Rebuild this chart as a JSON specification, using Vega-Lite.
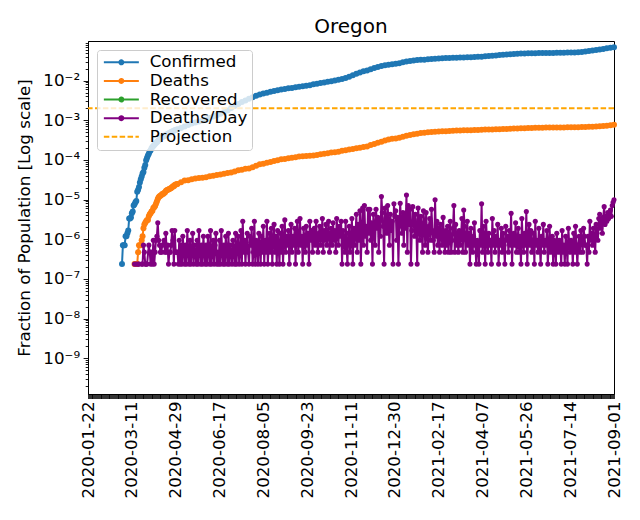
{
"$schema":"https://vega.github.io/schema/vega-lite/v6.json",
"width":526,"height":353,
"autosize":{"type":"none"},
"padding":{"left":88,"top":41,"right":26,"bottom":126},
"background":"white",
"config":{"font":"DejaVu Sans","view":{"stroke":"black","strokeWidth":1},
"axis":{"domainColor":"black","tickColor":"black","labelColor":"black","titleColor":"black","grid":false,"labelFont":"DejaVu Sans","titleFont":"DejaVu Sans","labelFontSize":16.7,"titleFontSize":16.7,"titleFontWeight":"normal","domainWidth":1}},
"title":{"text":"Oregon","fontSize":20,"fontWeight":"normal","font":"DejaVu Sans","color":"black","offset":-2},
"datasets":{
"cum":[
{"t":"2020-02-29","Confirmed":2.37e-7},{"t":"2020-03-01","Confirmed":7.11e-7},{"t":"2020-03-02","Confirmed":7.11e-7},{"t":"2020-03-03","Confirmed":7.11e-7},{"t":"2020-03-04","Confirmed":1.19e-6},{"t":"2020-03-05","Confirmed":1.19e-6},{"t":"2020-03-06","Confirmed":1.42e-6},{"t":"2020-03-07","Confirmed":1.66e-6},{"t":"2020-03-08","Confirmed":3.32e-6},{"t":"2020-03-09","Confirmed":3.32e-6},{"t":"2020-03-10","Confirmed":3.56e-6},{"t":"2020-03-11","Confirmed":4.51e-6},{"t":"2020-03-12","Confirmed":4.98e-6},{"t":"2020-03-13","Confirmed":7.11e-6},
{"t":"2020-03-14","Confirmed":7.59e-6,"Deaths":2.37e-7},{"t":"2020-03-15","Confirmed":8.54e-6,"Deaths":2.37e-7},{"t":"2020-03-16","Confirmed":9.25e-6,"Deaths":2.37e-7},{"t":"2020-03-17","Confirmed":1.57e-5,"Deaths":2.37e-7},{"t":"2020-03-18","Confirmed":1.78e-5,"Deaths":4.74e-7},{"t":"2020-03-19","Confirmed":2.09e-5,"Deaths":7.11e-7},{"t":"2020-03-20","Confirmed":2.7e-5,"Deaths":7.11e-7},{"t":"2020-03-21","Confirmed":3.25e-5,"Deaths":7.11e-7},{"t":"2020-03-22","Confirmed":3.82e-5,"Deaths":9.49e-7},{"t":"2020-03-23","Confirmed":4.53e-5,"Deaths":1.19e-6},{"t":"2020-03-24","Confirmed":4.96e-5,"Deaths":1.9e-6},{"t":"2020-03-25","Confirmed":6.31e-5,"Deaths":2.37e-6},{"t":"2020-03-26","Confirmed":7.49e-5,"Deaths":2.61e-6},{"t":"2020-03-27","Confirmed":9.82e-5,"Deaths":2.85e-6},{"t":"2020-03-28","Confirmed":1.14e-4,"Deaths":3.08e-6},{"t":"2020-03-29","Confirmed":1.3e-4,"Deaths":3.08e-6},{"t":"2020-03-30","Confirmed":1.44e-4,"Deaths":3.79e-6},{"t":"2020-03-31","Confirmed":1.64e-4,"Deaths":4.27e-6},
{"t":"2020-04-01","Confirmed":1.75e-4,"Deaths":4.51e-6},{"t":"2020-04-02","Confirmed":1.96e-4,"Deaths":4.98e-6},{"t":"2020-04-03","Confirmed":2.13e-4,"Deaths":5.22e-6},{"t":"2020-04-04","Confirmed":2.25e-4,"Deaths":6.17e-6},{"t":"2020-04-05","Confirmed":2.37e-4,"Deaths":6.4e-6},{"t":"2020-04-06","Confirmed":2.53e-4,"Deaths":6.88e-6},{"t":"2020-04-07","Confirmed":2.68e-4,"Deaths":7.83e-6},{"t":"2020-04-08","Confirmed":2.8e-4,"Deaths":9.01e-6},{"t":"2020-04-09","Confirmed":2.94e-4,"Deaths":1.04e-5},{"t":"2020-04-10","Confirmed":3.13e-4,"Deaths":1.14e-5},{"t":"2020-04-11","Confirmed":3.25e-4,"Deaths":1.21e-5},{"t":"2020-04-12","Confirmed":3.43e-4,"Deaths":1.26e-5},{"t":"2020-04-13","Confirmed":3.62e-4,"Deaths":1.3e-5},{"t":"2020-04-14","Confirmed":3.76e-4,"Deaths":1.38e-5},{"t":"2020-04-15","Confirmed":3.87e-4,"Deaths":1.38e-5},{"t":"2020-04-16","Confirmed":3.94e-4,"Deaths":1.47e-5},{"t":"2020-04-17","Confirmed":4.12e-4,"Deaths":1.52e-5},{"t":"2020-04-18","Confirmed":4.23e-4,"Deaths":1.66e-5},{"t":"2020-04-19","Confirmed":4.37e-4,"Deaths":1.71e-5},{"t":"2020-04-20","Confirmed":4.53e-4,"Deaths":1.78e-5},{"t":"2020-04-21","Confirmed":4.64e-4,"Deaths":1.8e-5},{"t":"2020-04-22","Confirmed":4.75e-4,"Deaths":1.85e-5},{"t":"2020-04-23","Confirmed":4.88e-4,"Deaths":1.9e-5},{"t":"2020-04-24","Confirmed":5.04e-4,"Deaths":1.97e-5},{"t":"2020-04-25","Confirmed":5.16e-4,"Deaths":2.06e-5},{"t":"2020-04-26","Confirmed":5.34e-4,"Deaths":2.16e-5},{"t":"2020-04-27","Confirmed":5.48e-4,"Deaths":2.18e-5},{"t":"2020-04-28","Confirmed":5.58e-4,"Deaths":2.35e-5},{"t":"2020-04-29","Confirmed":5.66e-4,"Deaths":2.4e-5},{"t":"2020-04-30","Confirmed":5.8e-4,"Deaths":2.44e-5},
{"t":"2020-05-01","Confirmed":5.95e-4,"Deaths":2.47e-5},{"t":"2020-05-05","Confirmed":6.36e-4,"Deaths":2.73e-5},{"t":"2020-05-09","Confirmed":6.92e-4,"Deaths":3.01e-5},{"t":"2020-05-13","Confirmed":7.65e-4,"Deaths":3.08e-5},{"t":"2020-05-17","Confirmed":8.25e-4,"Deaths":3.25e-5},{"t":"2020-05-21","Confirmed":8.84e-4,"Deaths":3.41e-5},{"t":"2020-05-25","Confirmed":9.31e-4,"Deaths":3.51e-5},{"t":"2020-05-29","Confirmed":9.8e-4,"Deaths":3.58e-5},
{"t":"2020-06-02","Confirmed":1.04e-3,"Deaths":3.65e-5},{"t":"2020-06-06","Confirmed":1.14e-3,"Deaths":3.89e-5},{"t":"2020-06-10","Confirmed":1.24e-3,"Deaths":4.01e-5},{"t":"2020-06-14","Confirmed":1.34e-3,"Deaths":4.17e-5},{"t":"2020-06-18","Confirmed":1.45e-3,"Deaths":4.29e-5},{"t":"2020-06-22","Confirmed":1.6e-3,"Deaths":4.48e-5},{"t":"2020-06-26","Confirmed":1.77e-3,"Deaths":4.67e-5},{"t":"2020-06-30","Confirmed":2.05e-3,"Deaths":4.79e-5},
{"t":"2020-07-04","Confirmed":2.29e-3,"Deaths":5.1e-5},{"t":"2020-07-08","Confirmed":2.57e-3,"Deaths":5.5e-5},{"t":"2020-07-12","Confirmed":2.89e-3,"Deaths":5.64e-5},{"t":"2020-07-16","Confirmed":3.16e-3,"Deaths":6.02e-5},{"t":"2020-07-20","Confirmed":3.46e-3,"Deaths":6.12e-5},{"t":"2020-07-24","Confirmed":3.82e-3,"Deaths":6.55e-5},{"t":"2020-07-28","Confirmed":4.13e-3,"Deaths":7.14e-5},
{"t":"2020-08-01","Confirmed":4.46e-3,"Deaths":7.73e-5},{"t":"2020-08-05","Confirmed":4.74e-3,"Deaths":8.02e-5},{"t":"2020-08-09","Confirmed":4.97e-3,"Deaths":8.44e-5},{"t":"2020-08-13","Confirmed":5.22e-3,"Deaths":8.89e-5},{"t":"2020-08-17","Confirmed":5.47e-3,"Deaths":9.46e-5},{"t":"2020-08-21","Confirmed":5.73e-3,"Deaths":9.89e-5},{"t":"2020-08-25","Confirmed":5.97e-3,"Deaths":1.036e-4},{"t":"2020-08-29","Confirmed":6.17e-3,"Deaths":1.058e-4},
{"t":"2020-09-02","Confirmed":6.38e-3,"Deaths":1.1e-4},{"t":"2020-09-06","Confirmed":6.55e-3,"Deaths":1.143e-4},{"t":"2020-09-10","Confirmed":6.77e-3,"Deaths":1.176e-4},{"t":"2020-09-14","Confirmed":6.95e-3,"Deaths":1.217e-4},{"t":"2020-09-18","Confirmed":7.2e-3,"Deaths":1.236e-4},{"t":"2020-09-22","Confirmed":7.4e-3,"Deaths":1.252e-4},{"t":"2020-09-26","Confirmed":7.66e-3,"Deaths":1.278e-4},{"t":"2020-09-30","Confirmed":8.03e-3,"Deaths":1.3e-4},
{"t":"2020-10-04","Confirmed":8.29e-3,"Deaths":1.34e-4},{"t":"2020-10-08","Confirmed":8.66e-3,"Deaths":1.392e-4},{"t":"2020-10-12","Confirmed":8.97e-3,"Deaths":1.432e-4},{"t":"2020-10-16","Confirmed":9.35e-3,"Deaths":1.477e-4},{"t":"2020-10-20","Confirmed":9.69e-3,"Deaths":1.53e-4},{"t":"2020-10-24","Confirmed":1.01e-2,"Deaths":1.565e-4},{"t":"2020-10-28","Confirmed":1.05e-2,"Deaths":1.615e-4},
{"t":"2020-11-01","Confirmed":1.1e-2,"Deaths":1.698e-4},{"t":"2020-11-05","Confirmed":1.16e-2,"Deaths":1.762e-4},{"t":"2020-11-09","Confirmed":1.25e-2,"Deaths":1.831e-4},{"t":"2020-11-13","Confirmed":1.36e-2,"Deaths":1.897e-4},{"t":"2020-11-17","Confirmed":1.49e-2,"Deaths":1.966e-4},{"t":"2020-11-21","Confirmed":1.61e-2,"Deaths":2.032e-4},{"t":"2020-11-25","Confirmed":1.72e-2,"Deaths":2.106e-4},{"t":"2020-11-29","Confirmed":1.8e-2,"Deaths":2.177e-4},
{"t":"2020-12-03","Confirmed":1.92e-2,"Deaths":2.379e-4},{"t":"2020-12-07","Confirmed":2.07e-2,"Deaths":2.528e-4},{"t":"2020-12-11","Confirmed":2.21e-2,"Deaths":2.727e-4},{"t":"2020-12-15","Confirmed":2.33e-2,"Deaths":2.893e-4},{"t":"2020-12-19","Confirmed":2.43e-2,"Deaths":3.083e-4},{"t":"2020-12-23","Confirmed":2.52e-2,"Deaths":3.294e-4},{"t":"2020-12-27","Confirmed":2.57e-2,"Deaths":3.408e-4},{"t":"2020-12-31","Confirmed":2.64e-2,"Deaths":3.481e-4},
{"t":"2021-01-04","Confirmed":2.75e-2,"Deaths":3.647e-4},{"t":"2021-01-08","Confirmed":2.89e-2,"Deaths":3.863e-4},{"t":"2021-01-12","Confirmed":3.01e-2,"Deaths":4.093e-4},{"t":"2021-01-16","Confirmed":3.12e-2,"Deaths":4.254e-4},{"t":"2021-01-20","Confirmed":3.2e-2,"Deaths":4.454e-4},{"t":"2021-01-24","Confirmed":3.28e-2,"Deaths":4.577e-4},{"t":"2021-01-28","Confirmed":3.33e-2,"Deaths":4.743e-4},
{"t":"2021-02-01","Confirmed":3.37e-2,"Deaths":4.876e-4},{"t":"2021-02-05","Confirmed":3.45e-2,"Deaths":4.975e-4},{"t":"2021-02-09","Confirmed":3.51e-2,"Deaths":5.077e-4},{"t":"2021-02-13","Confirmed":3.56e-2,"Deaths":5.155e-4},{"t":"2021-02-17","Confirmed":3.61e-2,"Deaths":5.224e-4},{"t":"2021-02-21","Confirmed":3.64e-2,"Deaths":5.286e-4},{"t":"2021-02-25","Confirmed":3.69e-2,"Deaths":5.321e-4},
{"t":"2021-03-01","Confirmed":3.72e-2,"Deaths":5.364e-4},{"t":"2021-03-05","Confirmed":3.74e-2,"Deaths":5.428e-4},{"t":"2021-03-09","Confirmed":3.77e-2,"Deaths":5.494e-4},{"t":"2021-03-13","Confirmed":3.8e-2,"Deaths":5.547e-4},{"t":"2021-03-17","Confirmed":3.83e-2,"Deaths":5.592e-4},{"t":"2021-03-21","Confirmed":3.85e-2,"Deaths":5.618e-4},{"t":"2021-03-25","Confirmed":3.88e-2,"Deaths":5.639e-4},{"t":"2021-03-29","Confirmed":3.92e-2,"Deaths":5.656e-4},
{"t":"2021-04-02","Confirmed":3.96e-2,"Deaths":5.71e-4},{"t":"2021-04-06","Confirmed":4.01e-2,"Deaths":5.774e-4},{"t":"2021-04-10","Confirmed":4.08e-2,"Deaths":5.819e-4},{"t":"2021-04-14","Confirmed":4.15e-2,"Deaths":5.848e-4},{"t":"2021-04-18","Confirmed":4.23e-2,"Deaths":5.862e-4},{"t":"2021-04-22","Confirmed":4.32e-2,"Deaths":5.905e-4},{"t":"2021-04-26","Confirmed":4.41e-2,"Deaths":5.957e-4},{"t":"2021-04-30","Confirmed":4.49e-2,"Deaths":5.988e-4},
{"t":"2021-05-04","Confirmed":4.56e-2,"Deaths":6.047e-4},{"t":"2021-05-08","Confirmed":4.63e-2,"Deaths":6.118e-4},{"t":"2021-05-12","Confirmed":4.69e-2,"Deaths":6.178e-4},{"t":"2021-05-16","Confirmed":4.74e-2,"Deaths":6.237e-4},{"t":"2021-05-20","Confirmed":4.79e-2,"Deaths":6.298e-4},{"t":"2021-05-24","Confirmed":4.82e-2,"Deaths":6.332e-4},{"t":"2021-05-28","Confirmed":4.86e-2,"Deaths":6.362e-4},
{"t":"2021-06-01","Confirmed":4.88e-2,"Deaths":6.389e-4},{"t":"2021-06-05","Confirmed":4.91e-2,"Deaths":6.434e-4},{"t":"2021-06-09","Confirmed":4.93e-2,"Deaths":6.469e-4},{"t":"2021-06-13","Confirmed":4.94e-2,"Deaths":6.498e-4},{"t":"2021-06-17","Confirmed":4.96e-2,"Deaths":6.524e-4},{"t":"2021-06-21","Confirmed":4.97e-2,"Deaths":6.54e-4},{"t":"2021-06-25","Confirmed":4.99e-2,"Deaths":6.559e-4},{"t":"2021-06-29","Confirmed":5.01e-2,"Deaths":6.571e-4},
{"t":"2021-07-03","Confirmed":5.03e-2,"Deaths":6.588e-4},{"t":"2021-07-07","Confirmed":5.04e-2,"Deaths":6.602e-4},{"t":"2021-07-11","Confirmed":5.07e-2,"Deaths":6.621e-4},{"t":"2021-07-15","Confirmed":5.09e-2,"Deaths":6.64e-4},{"t":"2021-07-19","Confirmed":5.13e-2,"Deaths":6.671e-4},{"t":"2021-07-23","Confirmed":5.2e-2,"Deaths":6.702e-4},{"t":"2021-07-27","Confirmed":5.29e-2,"Deaths":6.74e-4},{"t":"2021-07-31","Confirmed":5.4e-2,"Deaths":6.792e-4},
{"t":"2021-08-04","Confirmed":5.54e-2,"Deaths":6.834e-4},{"t":"2021-08-08","Confirmed":5.72e-2,"Deaths":6.906e-4},{"t":"2021-08-12","Confirmed":5.91e-2,"Deaths":6.979e-4},{"t":"2021-08-16","Confirmed":6.07e-2,"Deaths":7.086e-4},{"t":"2021-08-20","Confirmed":6.28e-2,"Deaths":7.185e-4},{"t":"2021-08-24","Confirmed":6.5e-2,"Deaths":7.313e-4},{"t":"2021-08-28","Confirmed":6.71e-2,"Deaths":7.47e-4},{"t":"2021-09-01","Confirmed":6.88e-2,"Deaths":7.66e-4}
],
"dpd":[
{"t":"2020-03-14","v":2.37e-7},{"t":"2020-03-16","v":2.37e-7},{"t":"2020-03-18","v":2.37e-7},{"t":"2020-03-19","v":2.37e-7},{"t":"2020-03-22","v":2.37e-7},{"t":"2020-03-23","v":2.37e-7},{"t":"2020-03-24","v":7.11e-7},{"t":"2020-03-25","v":4.74e-7},{"t":"2020-03-26","v":2.37e-7},{"t":"2020-03-27","v":2.37e-7},{"t":"2020-03-28","v":2.37e-7},{"t":"2020-03-30","v":7.11e-7},{"t":"2020-03-31","v":4.74e-7},
{"t":"2020-04-01","v":2.37e-7},{"t":"2020-04-02","v":4.74e-7},{"t":"2020-04-03","v":2.37e-7},{"t":"2020-04-04","v":9.49e-7},{"t":"2020-04-05","v":2.37e-7},{"t":"2020-04-06","v":4.74e-7},{"t":"2020-04-07","v":9.49e-7},{"t":"2020-04-08","v":1.19e-6},{"t":"2020-04-09","v":2.61e-6},{"t":"2020-04-10","v":9.49e-7},{"t":"2020-04-11","v":7.11e-7},{"t":"2020-04-12","v":4.74e-7},{"t":"2020-04-13","v":4.74e-7},{"t":"2020-04-14","v":7.11e-7},{"t":"2020-04-16","v":9.49e-7},{"t":"2020-04-17","v":4.74e-7},{"t":"2020-04-18","v":1.42e-6},{"t":"2020-04-19","v":4.74e-7},{"t":"2020-04-20","v":7.11e-7},{"t":"2020-04-21","v":2.37e-7},{"t":"2020-04-22","v":4.74e-7},{"t":"2020-04-23","v":4.74e-7},{"t":"2020-04-24","v":7.11e-7},{"t":"2020-04-25","v":1.66e-6},{"t":"2020-04-26","v":9.49e-7},{"t":"2020-04-27","v":2.37e-7},{"t":"2020-04-28","v":1.66e-6},{"t":"2020-04-29","v":4.74e-7},{"t":"2020-04-30","v":4.74e-7},
{"t":"2020-05-01","v":4.74e-7},{"t":"2020-05-02","v":2.37e-7},{"t":"2020-05-03","v":9.49e-7},{"t":"2020-05-04","v":2.37e-7},{"t":"2020-05-05","v":7.11e-7},{"t":"2020-05-06","v":2.37e-7},{"t":"2020-05-07","v":1.19e-6},{"t":"2020-05-08","v":4.74e-7},{"t":"2020-05-09","v":2.37e-7},{"t":"2020-05-10","v":7.11e-7},{"t":"2020-05-11","v":2.37e-7},{"t":"2020-05-12","v":1.66e-6},{"t":"2020-05-13","v":4.74e-7},{"t":"2020-05-14","v":2.37e-7},{"t":"2020-05-15","v":9.49e-7},{"t":"2020-05-16","v":2.37e-7},{"t":"2020-05-17","v":4.74e-7},{"t":"2020-05-18","v":1.42e-6},{"t":"2020-05-19","v":2.37e-7},{"t":"2020-05-20","v":7.11e-7},{"t":"2020-05-21","v":4.74e-7},{"t":"2020-05-22","v":2.37e-7},{"t":"2020-05-23","v":9.49e-7},{"t":"2020-05-24","v":2.37e-7},{"t":"2020-05-25","v":1.66e-6},{"t":"2020-05-26","v":4.74e-7},{"t":"2020-05-27","v":2.37e-7},{"t":"2020-05-28","v":7.11e-7},{"t":"2020-05-29","v":2.37e-7},{"t":"2020-05-30","v":1.19e-6},{"t":"2020-05-31","v":4.74e-7},
{"t":"2020-06-01","v":2.37e-7},{"t":"2020-06-02","v":7.11e-7},{"t":"2020-06-03","v":2.37e-7},{"t":"2020-06-04","v":1.19e-6},{"t":"2020-06-05","v":4.74e-7},{"t":"2020-06-06","v":2.37e-7},{"t":"2020-06-07","v":1.66e-6},{"t":"2020-06-08","v":2.37e-7},{"t":"2020-06-09","v":4.74e-7},{"t":"2020-06-10","v":9.49e-7},{"t":"2020-06-11","v":2.37e-7},{"t":"2020-06-12","v":7.11e-7},{"t":"2020-06-13","v":1.42e-6},{"t":"2020-06-14","v":2.37e-7},{"t":"2020-06-15","v":4.74e-7},{"t":"2020-06-16","v":2.37e-7},{"t":"2020-06-17","v":9.49e-7},{"t":"2020-06-18","v":2.37e-7},{"t":"2020-06-19","v":1.66e-6},{"t":"2020-06-20","v":4.74e-7},{"t":"2020-06-21","v":2.37e-7},{"t":"2020-06-22","v":7.11e-7},{"t":"2020-06-23","v":2.37e-7},{"t":"2020-06-24","v":1.19e-6},{"t":"2020-06-25","v":4.74e-7},{"t":"2020-06-26","v":2.37e-7},{"t":"2020-06-27","v":1.42e-6},{"t":"2020-06-28","v":2.37e-7},{"t":"2020-06-29","v":7.11e-7},{"t":"2020-06-30","v":4.74e-7},
{"t":"2020-07-01","v":2.37e-7},{"t":"2020-07-02","v":9.49e-7},{"t":"2020-07-03","v":4.74e-7},{"t":"2020-07-04","v":2.37e-7},{"t":"2020-07-05","v":1.42e-6},{"t":"2020-07-06","v":2.37e-7},{"t":"2020-07-07","v":7.11e-7},{"t":"2020-07-08","v":1.19e-6},{"t":"2020-07-09","v":2.37e-7},{"t":"2020-07-10","v":4.74e-7},{"t":"2020-07-11","v":1.66e-6},{"t":"2020-07-12","v":2.37e-7},{"t":"2020-07-13","v":2.85e-6},{"t":"2020-07-14","v":4.74e-7},{"t":"2020-07-15","v":9.49e-7},{"t":"2020-07-16","v":2.37e-7},{"t":"2020-07-17","v":7.11e-7},{"t":"2020-07-18","v":1.42e-6},{"t":"2020-07-19","v":4.74e-7},{"t":"2020-07-20","v":2.37e-7},{"t":"2020-07-21","v":1.19e-6},{"t":"2020-07-22","v":7.11e-7},{"t":"2020-07-23","v":1.9e-6},{"t":"2020-07-24","v":2.37e-7},{"t":"2020-07-25","v":4.74e-7},{"t":"2020-07-26","v":2.85e-6},{"t":"2020-07-27","v":2.37e-7},{"t":"2020-07-28","v":9.49e-7},{"t":"2020-07-29","v":7.11e-7},{"t":"2020-07-30","v":2.37e-7},{"t":"2020-07-31","v":1.42e-6},
{"t":"2020-08-01","v":7.11e-7},{"t":"2020-08-02","v":2.37e-7},{"t":"2020-08-03","v":1.19e-6},{"t":"2020-08-04","v":4.74e-7},{"t":"2020-08-05","v":2.13e-6},{"t":"2020-08-06","v":2.37e-7},{"t":"2020-08-07","v":9.49e-7},{"t":"2020-08-08","v":4.74e-7},{"t":"2020-08-09","v":2.85e-6},{"t":"2020-08-10","v":2.37e-7},{"t":"2020-08-11","v":7.11e-7},{"t":"2020-08-12","v":1.42e-6},{"t":"2020-08-13","v":4.74e-7},{"t":"2020-08-14","v":1.9e-6},{"t":"2020-08-15","v":2.37e-7},{"t":"2020-08-16","v":9.49e-7},{"t":"2020-08-17","v":2.37e-6},{"t":"2020-08-18","v":4.74e-7},{"t":"2020-08-19","v":1.19e-6},{"t":"2020-08-20","v":2.37e-7},{"t":"2020-08-21","v":1.66e-6},{"t":"2020-08-22","v":7.11e-7},{"t":"2020-08-23","v":2.37e-7},{"t":"2020-08-24","v":1.42e-6},{"t":"2020-08-25","v":4.74e-7},{"t":"2020-08-26","v":2.13e-6},{"t":"2020-08-27","v":2.37e-7},{"t":"2020-08-28","v":9.49e-7},{"t":"2020-08-29","v":3.08e-6},{"t":"2020-08-30","v":4.74e-7},{"t":"2020-08-31","v":1.19e-6},
{"t":"2020-09-01","v":7.11e-7},{"t":"2020-09-02","v":1.66e-6},{"t":"2020-09-03","v":2.37e-7},{"t":"2020-09-04","v":9.49e-7},{"t":"2020-09-05","v":2.37e-6},{"t":"2020-09-06","v":4.74e-7},{"t":"2020-09-07","v":1.19e-6},{"t":"2020-09-08","v":7.11e-7},{"t":"2020-09-09","v":1.9e-6},{"t":"2020-09-10","v":2.37e-7},{"t":"2020-09-11","v":1.42e-6},{"t":"2020-09-12","v":2.85e-6},{"t":"2020-09-13","v":4.74e-7},{"t":"2020-09-14","v":9.49e-7},{"t":"2020-09-15","v":3.32e-6},{"t":"2020-09-16","v":7.11e-7},{"t":"2020-09-17","v":1.19e-6},{"t":"2020-09-18","v":2.37e-7},{"t":"2020-09-19","v":1.9e-6},{"t":"2020-09-20","v":9.49e-7},{"t":"2020-09-21","v":4.74e-7},{"t":"2020-09-22","v":2.13e-6},{"t":"2020-09-23","v":7.11e-7},{"t":"2020-09-24","v":1.42e-6},{"t":"2020-09-25","v":2.37e-7},{"t":"2020-09-26","v":2.85e-6},{"t":"2020-09-27","v":9.49e-7},{"t":"2020-09-28","v":1.66e-6},{"t":"2020-09-29","v":4.74e-7},{"t":"2020-09-30","v":1.19e-6},
{"t":"2020-10-01","v":1.9e-6},{"t":"2020-10-02","v":7.11e-7},{"t":"2020-10-03","v":2.85e-6},{"t":"2020-10-04","v":9.49e-7},{"t":"2020-10-05","v":4.74e-7},{"t":"2020-10-06","v":1.42e-6},{"t":"2020-10-07","v":2.13e-6},{"t":"2020-10-08","v":7.11e-7},{"t":"2020-10-09","v":1.19e-6},{"t":"2020-10-10","v":3.32e-6},{"t":"2020-10-11","v":4.74e-7},{"t":"2020-10-12","v":1.66e-6},{"t":"2020-10-13","v":9.49e-7},{"t":"2020-10-14","v":2.37e-6},{"t":"2020-10-15","v":7.11e-7},{"t":"2020-10-16","v":1.42e-6},{"t":"2020-10-17","v":2.85e-6},{"t":"2020-10-18","v":4.74e-7},{"t":"2020-10-19","v":1.19e-6},{"t":"2020-10-20","v":1.9e-6},{"t":"2020-10-21","v":7.11e-7},{"t":"2020-10-22","v":2.61e-6},{"t":"2020-10-23","v":9.49e-7},{"t":"2020-10-24","v":1.66e-6},{"t":"2020-10-25","v":4.74e-7},{"t":"2020-10-26","v":3.32e-6},{"t":"2020-10-27","v":1.42e-6},{"t":"2020-10-28","v":7.11e-7},{"t":"2020-10-29","v":2.13e-6},{"t":"2020-10-30","v":1.19e-6},{"t":"2020-10-31","v":2.85e-6},
{"t":"2020-11-01","v":2.37e-7},{"t":"2020-11-02","v":1.66e-6},{"t":"2020-11-03","v":9.49e-7},{"t":"2020-11-04","v":4.74e-7},{"t":"2020-11-05","v":2.85e-6},{"t":"2020-11-06","v":7.11e-7},{"t":"2020-11-07","v":2.37e-7},{"t":"2020-11-08","v":1.42e-6},{"t":"2020-11-09","v":2.13e-6},{"t":"2020-11-10","v":4.74e-7},{"t":"2020-11-11","v":9.49e-7},{"t":"2020-11-12","v":3.32e-6},{"t":"2020-11-13","v":2.37e-7},{"t":"2020-11-14","v":1.9e-6},{"t":"2020-11-15","v":7.11e-7},{"t":"2020-11-16","v":1.19e-6},{"t":"2020-11-17","v":4.27e-6},{"t":"2020-11-18","v":4.74e-7},{"t":"2020-11-19","v":2.37e-6},{"t":"2020-11-20","v":9.49e-7},{"t":"2020-11-21","v":5.22e-6},{"t":"2020-11-22","v":2.37e-7},{"t":"2020-11-23","v":1.66e-6},{"t":"2020-11-24","v":6.17e-6},{"t":"2020-11-25","v":7.11e-7},{"t":"2020-11-26","v":7.11e-6},{"t":"2020-11-27","v":1.19e-6},{"t":"2020-11-28","v":2.13e-6},{"t":"2020-11-29","v":4.74e-7},{"t":"2020-11-30","v":5.69e-6},
{"t":"2020-12-01","v":1.42e-6},{"t":"2020-12-02","v":5.69e-6},{"t":"2020-12-03","v":9.49e-7},{"t":"2020-12-04","v":2.61e-6},{"t":"2020-12-05","v":2.37e-7},{"t":"2020-12-06","v":4.27e-6},{"t":"2020-12-07","v":2.13e-6},{"t":"2020-12-08","v":7.11e-7},{"t":"2020-12-09","v":5.69e-6},{"t":"2020-12-10","v":1.9e-6},{"t":"2020-12-11","v":3.56e-6},{"t":"2020-12-12","v":4.74e-7},{"t":"2020-12-13","v":2.85e-6},{"t":"2020-12-14","v":1.19e-6},{"t":"2020-12-15","v":1.19e-5},{"t":"2020-12-16","v":4.74e-6},{"t":"2020-12-17","v":2.13e-6},{"t":"2020-12-18","v":2.37e-7},{"t":"2020-12-19","v":6.17e-6},{"t":"2020-12-20","v":3.32e-6},{"t":"2020-12-21","v":1.42e-6},{"t":"2020-12-22","v":7.11e-6},{"t":"2020-12-23","v":2.37e-6},{"t":"2020-12-24","v":7.11e-7},{"t":"2020-12-25","v":4.27e-6},{"t":"2020-12-26","v":1.66e-6},{"t":"2020-12-27","v":2.85e-6},{"t":"2020-12-28","v":2.37e-7},{"t":"2020-12-29","v":7.83e-6},{"t":"2020-12-30","v":3.79e-6},{"t":"2020-12-31","v":5.22e-6},
{"t":"2021-01-01","v":9.49e-7},{"t":"2021-01-02","v":3.56e-6},{"t":"2021-01-03","v":2.37e-7},{"t":"2021-01-04","v":2.13e-6},{"t":"2021-01-05","v":8.06e-6},{"t":"2021-01-06","v":2.61e-6},{"t":"2021-01-07","v":1.42e-6},{"t":"2021-01-08","v":4.74e-6},{"t":"2021-01-09","v":7.11e-7},{"t":"2021-01-10","v":4.51e-6},{"t":"2021-01-11","v":1.9e-6},{"t":"2021-01-12","v":1.3e-5},{"t":"2021-01-13","v":4.74e-7},{"t":"2021-01-14","v":7.11e-6},{"t":"2021-01-15","v":2.37e-6},{"t":"2021-01-16","v":5.69e-6},{"t":"2021-01-17","v":2.37e-7},{"t":"2021-01-18","v":1.66e-6},{"t":"2021-01-19","v":6.64e-6},{"t":"2021-01-20","v":2.85e-6},{"t":"2021-01-21","v":1.19e-6},{"t":"2021-01-22","v":4.27e-6},{"t":"2021-01-23","v":2.13e-6},{"t":"2021-01-24","v":2.37e-7},{"t":"2021-01-25","v":6.17e-6},{"t":"2021-01-26","v":3.08e-6},{"t":"2021-01-27","v":9.49e-7},{"t":"2021-01-28","v":3.79e-6},{"t":"2021-01-29","v":1.9e-6},{"t":"2021-01-30","v":4.74e-7},{"t":"2021-01-31","v":5.22e-6},
{"t":"2021-02-01","v":2.61e-6},{"t":"2021-02-02","v":7.11e-7},{"t":"2021-02-03","v":4.74e-6},{"t":"2021-02-04","v":1.42e-6},{"t":"2021-02-05","v":4.74e-7},{"t":"2021-02-06","v":2.13e-6},{"t":"2021-02-07","v":3.32e-6},{"t":"2021-02-08","v":9.49e-7},{"t":"2021-02-09","v":5.69e-6},{"t":"2021-02-10","v":1.66e-6},{"t":"2021-02-11","v":9.49e-7},{"t":"2021-02-12","v":4.74e-7},{"t":"2021-02-13","v":9.96e-6},{"t":"2021-02-14","v":1.19e-6},{"t":"2021-02-15","v":2.85e-6},{"t":"2021-02-16","v":7.11e-7},{"t":"2021-02-17","v":1.9e-6},{"t":"2021-02-18","v":4.74e-7},{"t":"2021-02-19","v":2.37e-6},{"t":"2021-02-20","v":1.42e-6},{"t":"2021-02-21","v":7.11e-7},{"t":"2021-02-22","v":3.56e-6},{"t":"2021-02-23","v":9.49e-7},{"t":"2021-02-24","v":4.74e-7},{"t":"2021-02-25","v":1.66e-6},{"t":"2021-02-26","v":7.11e-7},{"t":"2021-02-27","v":2.13e-6},{"t":"2021-02-28","v":4.74e-7},
{"t":"2021-03-01","v":1.19e-6},{"t":"2021-03-02","v":2.85e-6},{"t":"2021-03-03","v":4.74e-7},{"t":"2021-03-04","v":9.49e-7},{"t":"2021-03-05","v":1.9e-6},{"t":"2021-03-06","v":7.11e-6},{"t":"2021-03-07","v":4.74e-7},{"t":"2021-03-08","v":2.37e-6},{"t":"2021-03-09","v":7.11e-7},{"t":"2021-03-10","v":1.42e-6},{"t":"2021-03-11","v":4.74e-7},{"t":"2021-03-12","v":1.66e-6},{"t":"2021-03-13","v":7.11e-7},{"t":"2021-03-14","v":1.19e-6},{"t":"2021-03-15","v":3.32e-6},{"t":"2021-03-16","v":4.74e-7},{"t":"2021-03-17","v":5.45e-6},{"t":"2021-03-18","v":2.13e-6},{"t":"2021-03-19","v":4.74e-7},{"t":"2021-03-20","v":9.49e-7},{"t":"2021-03-21","v":2.85e-6},{"t":"2021-03-22","v":7.11e-7},{"t":"2021-03-23","v":1.42e-6},{"t":"2021-03-24","v":2.37e-7},{"t":"2021-03-25","v":1.9e-6},{"t":"2021-03-26","v":7.11e-7},{"t":"2021-03-27","v":4.74e-7},{"t":"2021-03-28","v":1.19e-6},{"t":"2021-03-29","v":2.61e-6},{"t":"2021-03-30","v":7.11e-7},{"t":"2021-03-31","v":2.37e-7},
{"t":"2021-04-01","v":9.49e-7},{"t":"2021-04-02","v":7.11e-7},{"t":"2021-04-03","v":2.37e-7},{"t":"2021-04-04","v":1.66e-6},{"t":"2021-04-05","v":7.11e-7},{"t":"2021-04-06","v":7.83e-6},{"t":"2021-04-07","v":4.74e-7},{"t":"2021-04-08","v":2.13e-6},{"t":"2021-04-09","v":1.19e-6},{"t":"2021-04-10","v":2.37e-7},{"t":"2021-04-11","v":2.85e-6},{"t":"2021-04-12","v":9.49e-7},{"t":"2021-04-13","v":4.74e-7},{"t":"2021-04-14","v":1.42e-6},{"t":"2021-04-15","v":7.11e-7},{"t":"2021-04-16","v":9.49e-7},{"t":"2021-04-17","v":2.37e-7},{"t":"2021-04-18","v":3.32e-6},{"t":"2021-04-19","v":7.11e-7},{"t":"2021-04-20","v":1.66e-6},{"t":"2021-04-21","v":4.74e-7},{"t":"2021-04-22","v":1.19e-6},{"t":"2021-04-23","v":7.11e-7},{"t":"2021-04-24","v":2.37e-6},{"t":"2021-04-25","v":2.37e-7},{"t":"2021-04-26","v":9.49e-7},{"t":"2021-04-27","v":7.11e-7},{"t":"2021-04-28","v":1.9e-6},{"t":"2021-04-29","v":4.74e-7},{"t":"2021-04-30","v":1.42e-6},
{"t":"2021-05-01","v":7.11e-7},{"t":"2021-05-02","v":2.37e-7},{"t":"2021-05-03","v":2.13e-6},{"t":"2021-05-04","v":9.49e-7},{"t":"2021-05-05","v":1.19e-6},{"t":"2021-05-06","v":4.74e-7},{"t":"2021-05-07","v":1.66e-6},{"t":"2021-05-08","v":7.11e-7},{"t":"2021-05-09","v":4.51e-6},{"t":"2021-05-10","v":2.37e-7},{"t":"2021-05-11","v":9.49e-7},{"t":"2021-05-12","v":1.42e-6},{"t":"2021-05-13","v":7.11e-7},{"t":"2021-05-14","v":2.61e-6},{"t":"2021-05-15","v":4.74e-7},{"t":"2021-05-16","v":7.11e-7},{"t":"2021-05-17","v":1.9e-6},{"t":"2021-05-18","v":4.74e-7},{"t":"2021-05-19","v":1.19e-6},{"t":"2021-05-20","v":2.37e-7},{"t":"2021-05-21","v":3.32e-6},{"t":"2021-05-22","v":9.49e-7},{"t":"2021-05-23","v":4.74e-7},{"t":"2021-05-24","v":1.42e-6},{"t":"2021-05-25","v":7.11e-7},{"t":"2021-05-26","v":4.98e-6},{"t":"2021-05-27","v":2.37e-7},{"t":"2021-05-28","v":9.49e-7},{"t":"2021-05-29","v":2.37e-6},{"t":"2021-05-30","v":7.11e-7},{"t":"2021-05-31","v":1.66e-6},
{"t":"2021-06-01","v":4.74e-7},{"t":"2021-06-02","v":7.11e-7},{"t":"2021-06-03","v":1.42e-6},{"t":"2021-06-04","v":2.37e-7},{"t":"2021-06-05","v":2.85e-6},{"t":"2021-06-06","v":7.11e-7},{"t":"2021-06-07","v":9.49e-7},{"t":"2021-06-08","v":4.74e-7},{"t":"2021-06-09","v":1.9e-6},{"t":"2021-06-10","v":7.11e-7},{"t":"2021-06-11","v":2.37e-7},{"t":"2021-06-12","v":1.19e-6},{"t":"2021-06-13","v":7.11e-7},{"t":"2021-06-14","v":2.37e-6},{"t":"2021-06-15","v":4.74e-7},{"t":"2021-06-16","v":9.49e-7},{"t":"2021-06-17","v":7.11e-7},{"t":"2021-06-18","v":1.66e-6},{"t":"2021-06-19","v":2.37e-7},{"t":"2021-06-20","v":7.11e-7},{"t":"2021-06-21","v":2.13e-6},{"t":"2021-06-22","v":4.74e-7},{"t":"2021-06-23","v":7.11e-7},{"t":"2021-06-24","v":1.19e-6},{"t":"2021-06-25","v":2.37e-7},{"t":"2021-06-26","v":9.49e-7},{"t":"2021-06-27","v":7.11e-7},{"t":"2021-06-28","v":2.37e-7},{"t":"2021-06-29","v":1.42e-6},{"t":"2021-06-30","v":7.11e-7},
{"t":"2021-07-01","v":4.74e-7},{"t":"2021-07-02","v":9.49e-7},{"t":"2021-07-03","v":7.11e-7},{"t":"2021-07-04","v":2.37e-7},{"t":"2021-07-05","v":1.66e-6},{"t":"2021-07-06","v":4.74e-7},{"t":"2021-07-07","v":7.11e-7},{"t":"2021-07-08","v":2.37e-7},{"t":"2021-07-09","v":1.19e-6},{"t":"2021-07-10","v":7.11e-7},{"t":"2021-07-11","v":2.37e-7},{"t":"2021-07-12","v":1.9e-6},{"t":"2021-07-13","v":7.11e-7},{"t":"2021-07-14","v":4.74e-7},{"t":"2021-07-15","v":9.49e-7},{"t":"2021-07-16","v":7.11e-7},{"t":"2021-07-17","v":2.37e-7},{"t":"2021-07-18","v":1.42e-6},{"t":"2021-07-19","v":4.74e-7},{"t":"2021-07-20","v":2.13e-6},{"t":"2021-07-21","v":7.11e-7},{"t":"2021-07-22","v":2.37e-7},{"t":"2021-07-23","v":7.11e-7},{"t":"2021-07-24","v":1.19e-6},{"t":"2021-07-25","v":4.74e-7},{"t":"2021-07-26","v":1.66e-6},{"t":"2021-07-27","v":9.49e-7},{"t":"2021-07-28","v":4.74e-7},{"t":"2021-07-29","v":1.9e-6},{"t":"2021-07-30","v":1.19e-6},{"t":"2021-07-31","v":7.11e-7},
{"t":"2021-08-01","v":7.11e-7},{"t":"2021-08-02","v":2.37e-7},{"t":"2021-08-03","v":1.19e-6},{"t":"2021-08-04","v":4.74e-7},{"t":"2021-08-05","v":2.85e-6},{"t":"2021-08-06","v":9.49e-7},{"t":"2021-08-07","v":1.42e-6},{"t":"2021-08-08","v":7.11e-7},{"t":"2021-08-09","v":1.9e-6},{"t":"2021-08-10","v":1.19e-6},{"t":"2021-08-11","v":4.74e-7},{"t":"2021-08-12","v":2.37e-6},{"t":"2021-08-13","v":1.42e-6},{"t":"2021-08-14","v":9.49e-7},{"t":"2021-08-15","v":3.32e-6},{"t":"2021-08-16","v":4.27e-6},{"t":"2021-08-17","v":1.9e-6},{"t":"2021-08-18","v":2.85e-6},{"t":"2021-08-19","v":1.42e-6},{"t":"2021-08-20","v":3.56e-6},{"t":"2021-08-21","v":6.64e-6},{"t":"2021-08-22","v":2.37e-6},{"t":"2021-08-23","v":3.79e-6},{"t":"2021-08-24","v":2.85e-6},{"t":"2021-08-25","v":4.74e-6},{"t":"2021-08-26","v":3.32e-6},{"t":"2021-08-27","v":4.27e-6},{"t":"2021-08-28","v":5.45e-6},{"t":"2021-08-29","v":3.79e-6},{"t":"2021-08-30","v":7.11e-6},{"t":"2021-08-31","v":8.54e-6},{"t":"2021-09-01","v":9.96e-6}
],
"proj":[{"s":"Projection","v":0.002}]
},
"layer":[
{"data":{"name":"cum"},
 "transform":[{"fold":["Confirmed","Deaths"],"as":["s","v"]}],
 "mark":{"type":"line","strokeWidth":2,"point":{"filled":true,"size":36}},
 "encoding":{
  "x":{"field":"t","type":"temporal","scale":{"type":"utc","nice":false,"domain":[{"year":2020,"month":1,"date":22,"utc":true},{"year":2021,"month":9,"date":1,"utc":true}]},
   "axis":{"title":null,"tickCount":{"interval":"day","step":1},"labelExpr":"(time(datum.value) - 1579651200000) % 4233600000 == 0 ? utcFormat(datum.value, '%Y-%m-%d') : ''","labelAngle":-90,"labelAlign":"right","labelBaseline":"middle","labelOverlap":false,"labelFlush":false,"tickSize":4.5,"tickWidth":0.8,"labelPadding":2.5,"labelFontSize":16.7}},
  "y":{"field":"v","type":"quantitative","scale":{"type":"log","nice":false,"domain":[1.26e-10,0.0995]},
   "axis":{"title":"Fraction of Population [Log scale]","titlePadding":9,"values":[2e-10,3e-10,4e-10,5e-10,6e-10,7e-10,8e-10,9e-10,1e-9,2e-9,3e-9,4e-9,5e-9,6e-9,7e-9,8e-9,9e-9,1e-8,2e-8,3e-8,4e-8,5e-8,6e-8,7e-8,8e-8,9e-8,1e-7,2e-7,3e-7,4e-7,5e-7,6e-7,7e-7,8e-7,9e-7,1e-6,2e-6,3e-6,4e-6,5e-6,6e-6,7e-6,8e-6,9e-6,1e-5,2e-5,3e-5,4e-5,5e-5,6e-5,7e-5,8e-5,9e-5,1e-4,2e-4,3e-4,4e-4,5e-4,6e-4,7e-4,8e-4,9e-4,1e-3,2e-3,3e-3,4e-3,5e-3,6e-3,7e-3,8e-3,9e-3,1e-2,2e-2,3e-2,4e-2,5e-2,6e-2,7e-2,8e-2,9e-2],
   "labelExpr":"abs(log(datum.value)/LN10 - round(log(datum.value)/LN10)) < 0.001 ? '10⁻' + ['⁰','¹','²','³','⁴','⁵','⁶','⁷','⁸','⁹'][-round(log(datum.value)/LN10)] : ''",
   "tickSize":{"condition":{"test":"abs(log(datum.value)/LN10 - round(log(datum.value)/LN10)) < 0.001","value":4.9},"value":2.8},
   "tickWidth":0.9,"labelOverlap":false,"labelFlush":false,"labelPadding":3.5,"labelFontSize":16.7}},
  "color":{"field":"s","type":"nominal","scale":{"domain":["Confirmed","Deaths","Recovered","Deaths/Day","Projection"],"range":["#1f77b4","#ff7f0e","#2ca02c","#800080","#ffa500"]},
   "legend":{"title":null,"orient":"top-left","offset":9,"fillColor":"rgba(255,255,255,0.8)","strokeColor":"#cccccc","cornerRadius":3,"padding":4,"labelFontSize":16.7,"labelFont":"DejaVu Sans","labelColor":"black","symbolSize":100,"symbolStrokeWidth":2,"symbolOffset":12,"labelOffset":20,"rowPadding":0.6,
    "encode":{"symbols":{"update":{"shape":{"signal":"datum.value === 'Projection' ? 'M-3.5,0H3.5' : 'M-3.5,0H3.5M-0.4,0A0.4,0.4,0,1,0,0.4,0A0.4,0.4,0,1,0,-0.4,0Z'"},"fill":{"scale":"color","field":"value"},"stroke":{"scale":"color","field":"value"},"strokeDash":{"signal":"datum.value === 'Projection' ? [5.5,2.4] : [1,0]"},"strokeWidth":{"value":2},"opacity":{"value":1}}}}}}
 }},
{"data":{"name":"dpd"},
 "mark":{"type":"line","strokeWidth":2,"point":{"filled":true,"size":26}},
 "encoding":{
  "x":{"field":"t","type":"temporal"},
  "y":{"field":"v","type":"quantitative"},
  "color":{"datum":"Deaths/Day","type":"nominal"}
 }},
{"data":{"name":"proj"},
 "mark":{"type":"rule","strokeWidth":2,"strokeDash":[5.5,2.4]},
 "encoding":{
  "y":{"field":"v","type":"quantitative"},
  "color":{"field":"s","type":"nominal"}
 }}
]
}
